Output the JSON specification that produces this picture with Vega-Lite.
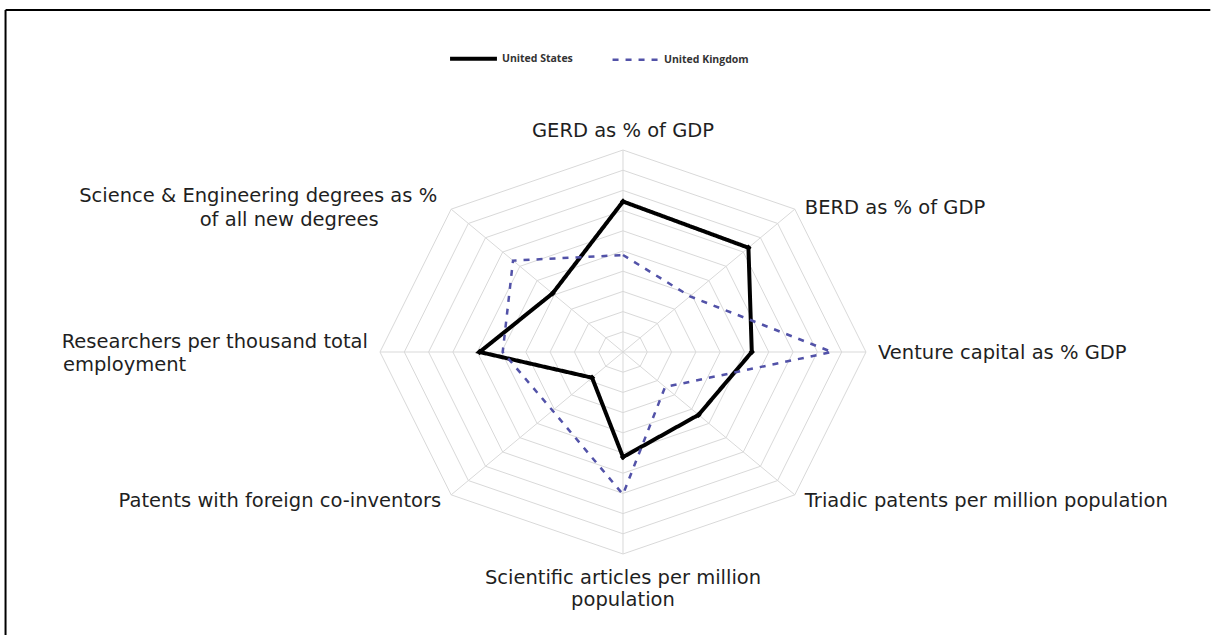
{
  "$schema": "https://vega.github.io/schema/vega-lite/v6.json",
  "width": 1211,
  "height": 635,
  "autosize": {"type": "none"},
  "padding": 0,
  "background": "white",
  "config": {
    "view": {"stroke": null},
    "text": {"font": "DejaVu Sans", "fontSize": 19.5, "fill": "#1f1f1f"}
  },
  "datasets": {
    "series": [
      {"country": "United States", "axis": "GERD as % of GDP", "k": 0, "value": 7.45},
      {"country": "United States", "axis": "BERD as % of GDP", "k": 1, "value": 7.3},
      {"country": "United States", "axis": "Venture capital as % GDP", "k": 2, "value": 5.3},
      {"country": "United States", "axis": "Triadic patents per million population", "k": 3, "value": 4.4},
      {"country": "United States", "axis": "Scientific articles per million population", "k": 4, "value": 5.2},
      {"country": "United States", "axis": "Patents with foreign co-inventors", "k": 5, "value": 1.8},
      {"country": "United States", "axis": "Researchers per thousand total employment", "k": 6, "value": 5.9},
      {"country": "United States", "axis": "Science & Engineering degrees as % of all new degrees", "k": 7, "value": 4.1},
      {"country": "United Kingdom", "axis": "GERD as % of GDP", "k": 0, "value": 4.8},
      {"country": "United Kingdom", "axis": "BERD as % of GDP", "k": 1, "value": 3.9},
      {"country": "United Kingdom", "axis": "Venture capital as % GDP", "k": 2, "value": 8.6},
      {"country": "United Kingdom", "axis": "Triadic patents per million population", "k": 3, "value": 2.45},
      {"country": "United Kingdom", "axis": "Scientific articles per million population", "k": 4, "value": 7.05},
      {"country": "United Kingdom", "axis": "Patents with foreign co-inventors", "k": 5, "value": 4.1},
      {"country": "United Kingdom", "axis": "Researchers per thousand total employment", "k": 6, "value": 4.95},
      {"country": "United Kingdom", "axis": "Science & Engineering degrees as % of all new degrees", "k": 7, "value": 6.4}
    ],
    "levels": [
      {"level": 1, "k": [0, 1, 2, 3, 4, 5, 6, 7]},
      {"level": 2, "k": [0, 1, 2, 3, 4, 5, 6, 7]},
      {"level": 3, "k": [0, 1, 2, 3, 4, 5, 6, 7]},
      {"level": 4, "k": [0, 1, 2, 3, 4, 5, 6, 7]},
      {"level": 5, "k": [0, 1, 2, 3, 4, 5, 6, 7]},
      {"level": 6, "k": [0, 1, 2, 3, 4, 5, 6, 7]},
      {"level": 7, "k": [0, 1, 2, 3, 4, 5, 6, 7]},
      {"level": 8, "k": [0, 1, 2, 3, 4, 5, 6, 7]},
      {"level": 9, "k": [0, 1, 2, 3, 4, 5, 6, 7]},
      {"level": 10, "k": [0, 1, 2, 3, 4, 5, 6, 7]}
    ],
    "axes": [
      {"k": 0, "level": 10}, {"k": 1, "level": 10}, {"k": 2, "level": 10}, {"k": 3, "level": 10},
      {"k": 4, "level": 10}, {"k": 5, "level": 10}, {"k": 6, "level": 10}, {"k": 7, "level": 10}
    ],
    "labels": [
      {"k": 0, "part": 1, "level": 10, "label": "GERD as % of GDP"},
      {"k": 1, "part": 1, "level": 10, "label": "BERD as % of GDP"},
      {"k": 2, "part": 1, "level": 10, "label": "Venture capital as % GDP"},
      {"k": 3, "part": 1, "level": 10, "label": "Triadic patents per million population"},
      {"k": 4, "part": 1, "level": 10, "label": "Scientific articles per million"},
      {"k": 4, "part": 2, "level": 10, "label": "population"},
      {"k": 5, "part": 1, "level": 10, "label": "Patents with foreign co-inventors"},
      {"k": 6, "part": 1, "level": 10, "label": "Researchers per thousand total"},
      {"k": 6, "part": 2, "level": 10, "label": "employment"},
      {"k": 7, "part": 1, "level": 10, "label": "Science & Engineering degrees as %"},
      {"k": 7, "part": 2, "level": 10, "label": "of all new degrees"}
    ]
  },
  "layer": [
    {
      "data": {"values": [{}]},
      "mark": {"type": "rule", "stroke": "#000000", "strokeWidth": 2},
      "encoding": {
        "x": {"datum": -25.41, "type": "quantitative", "scale": {"domain": [-25.638, 24.198], "nice": false, "zero": false}, "axis": null},
        "x2": {"datum": 24.17},
        "y": {"datum": 16.93, "type": "quantitative", "scale": {"domain": [-14.01, 17.426], "nice": false, "zero": false}, "axis": null}
      }
    },
    {
      "data": {"values": [{}]},
      "mark": {"type": "rule", "stroke": "#000000", "strokeWidth": 2},
      "encoding": {
        "x": {"datum": -25.41, "type": "quantitative", "scale": {"domain": [-25.638, 24.198], "nice": false, "zero": false}, "axis": null},
        "y": {"datum": 16.93, "type": "quantitative", "scale": {"domain": [-14.01, 17.426], "nice": false, "zero": false}, "axis": null},
        "y2": {"datum": -14.01}
      }
    },
    {
      "data": {"name": "levels"},
      "transform": [
        {"flatten": ["k"]},
        {"calculate": "datum.level * sin(datum.k * PI / 4)", "as": "x"},
        {"calculate": "datum.level * cos(datum.k * PI / 4)", "as": "y"}
      ],
      "mark": {"type": "line", "interpolate": "linear-closed", "stroke": "#d9d9d9", "strokeWidth": 1},
      "encoding": {
        "x": {"field": "x", "type": "quantitative", "scale": {"domain": [-25.638, 24.198], "nice": false, "zero": false}, "axis": null},
        "y": {"field": "y", "type": "quantitative", "scale": {"domain": [-14.01, 17.426], "nice": false, "zero": false}, "axis": null},
        "detail": {"field": "level", "type": "nominal"},
        "order": {"field": "k", "type": "quantitative"}
      }
    },
    {
      "data": {"name": "axes"},
      "transform": [
        {"calculate": "datum.level * sin(datum.k * PI / 4)", "as": "x"},
        {"calculate": "datum.level * cos(datum.k * PI / 4)", "as": "y"}
      ],
      "mark": {"type": "rule", "stroke": "#d9d9d9", "strokeWidth": 1},
      "encoding": {
        "x": {"field": "x", "type": "quantitative", "scale": {"domain": [-25.638, 24.198], "nice": false, "zero": false}, "axis": null},
        "y": {"field": "y", "type": "quantitative", "scale": {"domain": [-14.01, 17.426], "nice": false, "zero": false}, "axis": null},
        "x2": {"datum": 0},
        "y2": {"datum": 0}
      }
    },
    {
      "data": {"name": "series"},
      "transform": [
        {"calculate": "datum.value * sin(datum.k * PI / 4)", "as": "x"},
        {"calculate": "datum.value * cos(datum.k * PI / 4)", "as": "y"}
      ],
      "mark": {"type": "line", "interpolate": "linear-closed"},
      "encoding": {
        "x": {"field": "x", "type": "quantitative", "scale": {"domain": [-25.638, 24.198], "nice": false, "zero": false}, "axis": null},
        "y": {"field": "y", "type": "quantitative", "scale": {"domain": [-14.01, 17.426], "nice": false, "zero": false}, "axis": null},
        "order": {"field": "k", "type": "quantitative"},
        "color": {
          "field": "country", "type": "nominal",
          "scale": {"domain": ["United States", "United Kingdom"], "range": ["#000000", "#5252a8"]},
          "legend": {
            "orient": "none", "legendX": 448, "legendY": 33, "direction": "horizontal", "title": null,
            "symbolType": "stroke", "symbolSize": 2200, "symbolStrokeWidth": 3,
            "labelFont": "Open Sans", "labelFontSize": 10.5, "labelFontWeight": "bold", "labelColor": "#333333",
            "columnPadding": 34, "labelOffset": 3
          }
        },
        "strokeDash": {
          "field": "country", "type": "nominal",
          "scale": {"domain": ["United States", "United Kingdom"], "range": [[1, 0], [6, 7]]}
        },
        "strokeWidth": {
          "field": "country", "type": "nominal",
          "scale": {"domain": ["United States", "United Kingdom"], "range": [4, 2.5]},
          "legend": null
        }
      }
    },
    {
      "data": {"name": "series"},
      "transform": [
        {"filter": "datum.country == 'United States'"},
        {"calculate": "datum.value * sin(datum.k * PI / 4)", "as": "x"},
        {"calculate": "datum.value * cos(datum.k * PI / 4)", "as": "y"}
      ],
      "mark": {"type": "point", "shape": "diamond", "filled": true, "color": "#000000", "size": 40, "opacity": 1},
      "encoding": {
        "x": {"field": "x", "type": "quantitative", "scale": {"domain": [-25.638, 24.198], "nice": false, "zero": false}, "axis": null},
        "y": {"field": "y", "type": "quantitative", "scale": {"domain": [-14.01, 17.426], "nice": false, "zero": false}, "axis": null}
      }
    },
    {
      "data": {"name": "labels"},
      "transform": [
        {"calculate": "datum.level * sin(datum.k * PI / 4)", "as": "x"},
        {"calculate": "datum.level * cos(datum.k * PI / 4)", "as": "y"}
      ],
      "layer": [
        {"transform": [{"filter": "datum.k == 0"}], "mark": {"type": "text", "align": "center", "baseline": "middle", "dy": -19}},
        {"transform": [{"filter": "datum.k == 1"}], "mark": {"type": "text", "align": "left", "baseline": "middle", "dx": 10, "dy": -1}},
        {"transform": [{"filter": "datum.k == 2"}], "mark": {"type": "text", "align": "left", "baseline": "middle", "dx": 12, "dy": 1}},
        {"transform": [{"filter": "datum.k == 3"}], "mark": {"type": "text", "align": "left", "baseline": "middle", "dx": 10, "dy": 6}},
        {"transform": [{"filter": "datum.k == 4 && datum.part == 1"}], "mark": {"type": "text", "align": "center", "baseline": "middle", "dy": 24}},
        {"transform": [{"filter": "datum.k == 4 && datum.part == 2"}], "mark": {"type": "text", "align": "center", "baseline": "middle", "dy": 46}},
        {"transform": [{"filter": "datum.k == 5"}], "mark": {"type": "text", "align": "right", "baseline": "middle", "dx": -10, "dy": 6}},
        {"transform": [{"filter": "datum.k == 6 && datum.part == 1"}], "mark": {"type": "text", "align": "right", "baseline": "middle", "dx": -12, "dy": -10}},
        {"transform": [{"filter": "datum.k == 6 && datum.part == 2"}], "mark": {"type": "text", "align": "left", "baseline": "middle", "dx": -317, "dy": 13}},
        {"transform": [{"filter": "datum.k == 7 && datum.part == 1"}], "mark": {"type": "text", "align": "right", "baseline": "middle", "dx": -14, "dy": -13}},
        {"transform": [{"filter": "datum.k == 7 && datum.part == 2"}], "mark": {"type": "text", "align": "center", "baseline": "middle", "dx": -162, "dy": 11}}
      ],
      "encoding": {
        "x": {"field": "x", "type": "quantitative", "scale": {"domain": [-25.638, 24.198], "nice": false, "zero": false}, "axis": null},
        "y": {"field": "y", "type": "quantitative", "scale": {"domain": [-14.01, 17.426], "nice": false, "zero": false}, "axis": null},
        "text": {"field": "label", "type": "nominal"}
      }
    }
  ]
}
